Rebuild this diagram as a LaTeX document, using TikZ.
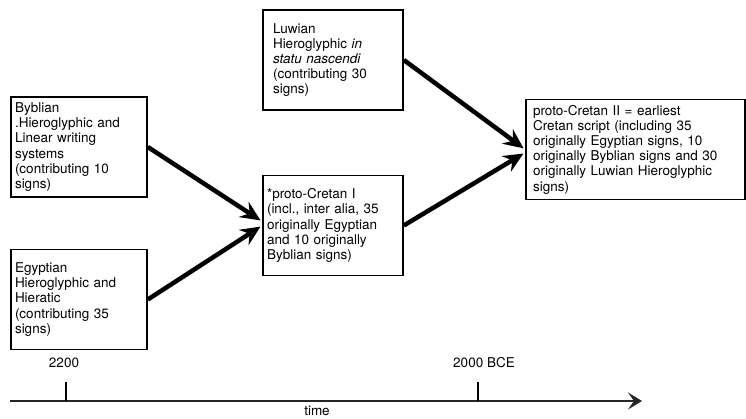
\documentclass[tikz,border=0pt]{standalone}
\usepackage{fontspec}
\setmainfont{TeX Gyre Heros}
\usetikzlibrary{positioning,shapes,arrows,arrows.meta}
\tikzstyle{block} = [draw, rectangle, line width=1.6pt, align=left, inner xsep=4pt, inner ysep=0pt, minimum height=100pt, text width=128pt, font=\fontsize{13.5}{15.2}\selectfont]
\tikzstyle{flow} = [line width=4.5pt, -{Stealth[length=20pt,width=18pt,inset=7pt]}, shorten >=2pt]
\tikzstyle{coord} = [coordinate]
\tikzstyle{tlabel} = [font=\fontsize{13.5}{15}\selectfont, inner sep=0pt]

\begin{document}
\begin{tikzpicture}[x=1pt,y=1pt,>=latex]
		\useasboundingbox (0,0) rectangle (746,418);
		\node (byb) [block] at (79,271) {Byblian\\.Hieroglyphic and\\Linear writing\\systems\\(contributing 10\\signs)};
		\node (egy) [block, below of=byb, node distance=152.5pt] {Egyptian\\Hieroglyphic and\\Hieratic\\(contributing 35\\signs)};
		\node (pc1) [block, text width=132pt] at (333,192.5) {*proto-Cretan I\\(incl., inter alia, 35\\originally Egyptian\\and 10 originally\\Byblian signs)};
		\node (luw) [block, inner xsep=10pt, text width=120pt, above of=pc1, node distance=165.5pt] {Luwian\\Hieroglyphic \textit{in}\\\textit{statu nascendi}\\(contributing 30\\signs)};
		\node (pc2) [block, inner xsep=7pt, text width=205pt] at (635.5,268.5) {proto-Cretan II = earliest\\Cretan script (including 35\\originally Egyptian signs, 10\\originally Byblian signs and 30\\originally Luwian Hieroglyphic\\signs)};

		% time axis
		\node (tstart) [coord] at (10,17) {};
		\node (tend) [coord] at (642,17) {};
		\node (tk1) [coord] at (66,17) {};
		\node (tk1top) [coord, above of=tk1, node distance=19pt] {};
		\node (tk2) [coord] at (478,17) {};
		\node (tk2top) [coord, above of=tk2, node distance=19pt] {};
		\node (lab1) [tlabel] at (64,55) {2200};
		\node (lab2) [tlabel] at (484,55) {2000 BCE};
		\node (time) [tlabel] at (317,7) {time};

		\draw [flow] (byb.east) -- ([yshift=4pt]pc1.west);
		\draw [flow] (egy.east) -- (pc1.west);
		\draw [flow] (luw.east) -- (pc2.west);
		\draw [flow] (pc1.east) -- ([yshift=-3pt]pc2.west);

		\draw [line width=2.8pt, black!85, -{Stealth[length=14pt,width=17pt,inset=6pt]}] (tstart) -- (tend);
		\draw [line width=1.5pt] (tk1) -- (tk1top);
		\draw [line width=1.5pt] (tk2) -- (tk2top);
	\end{tikzpicture}
\end{document}
